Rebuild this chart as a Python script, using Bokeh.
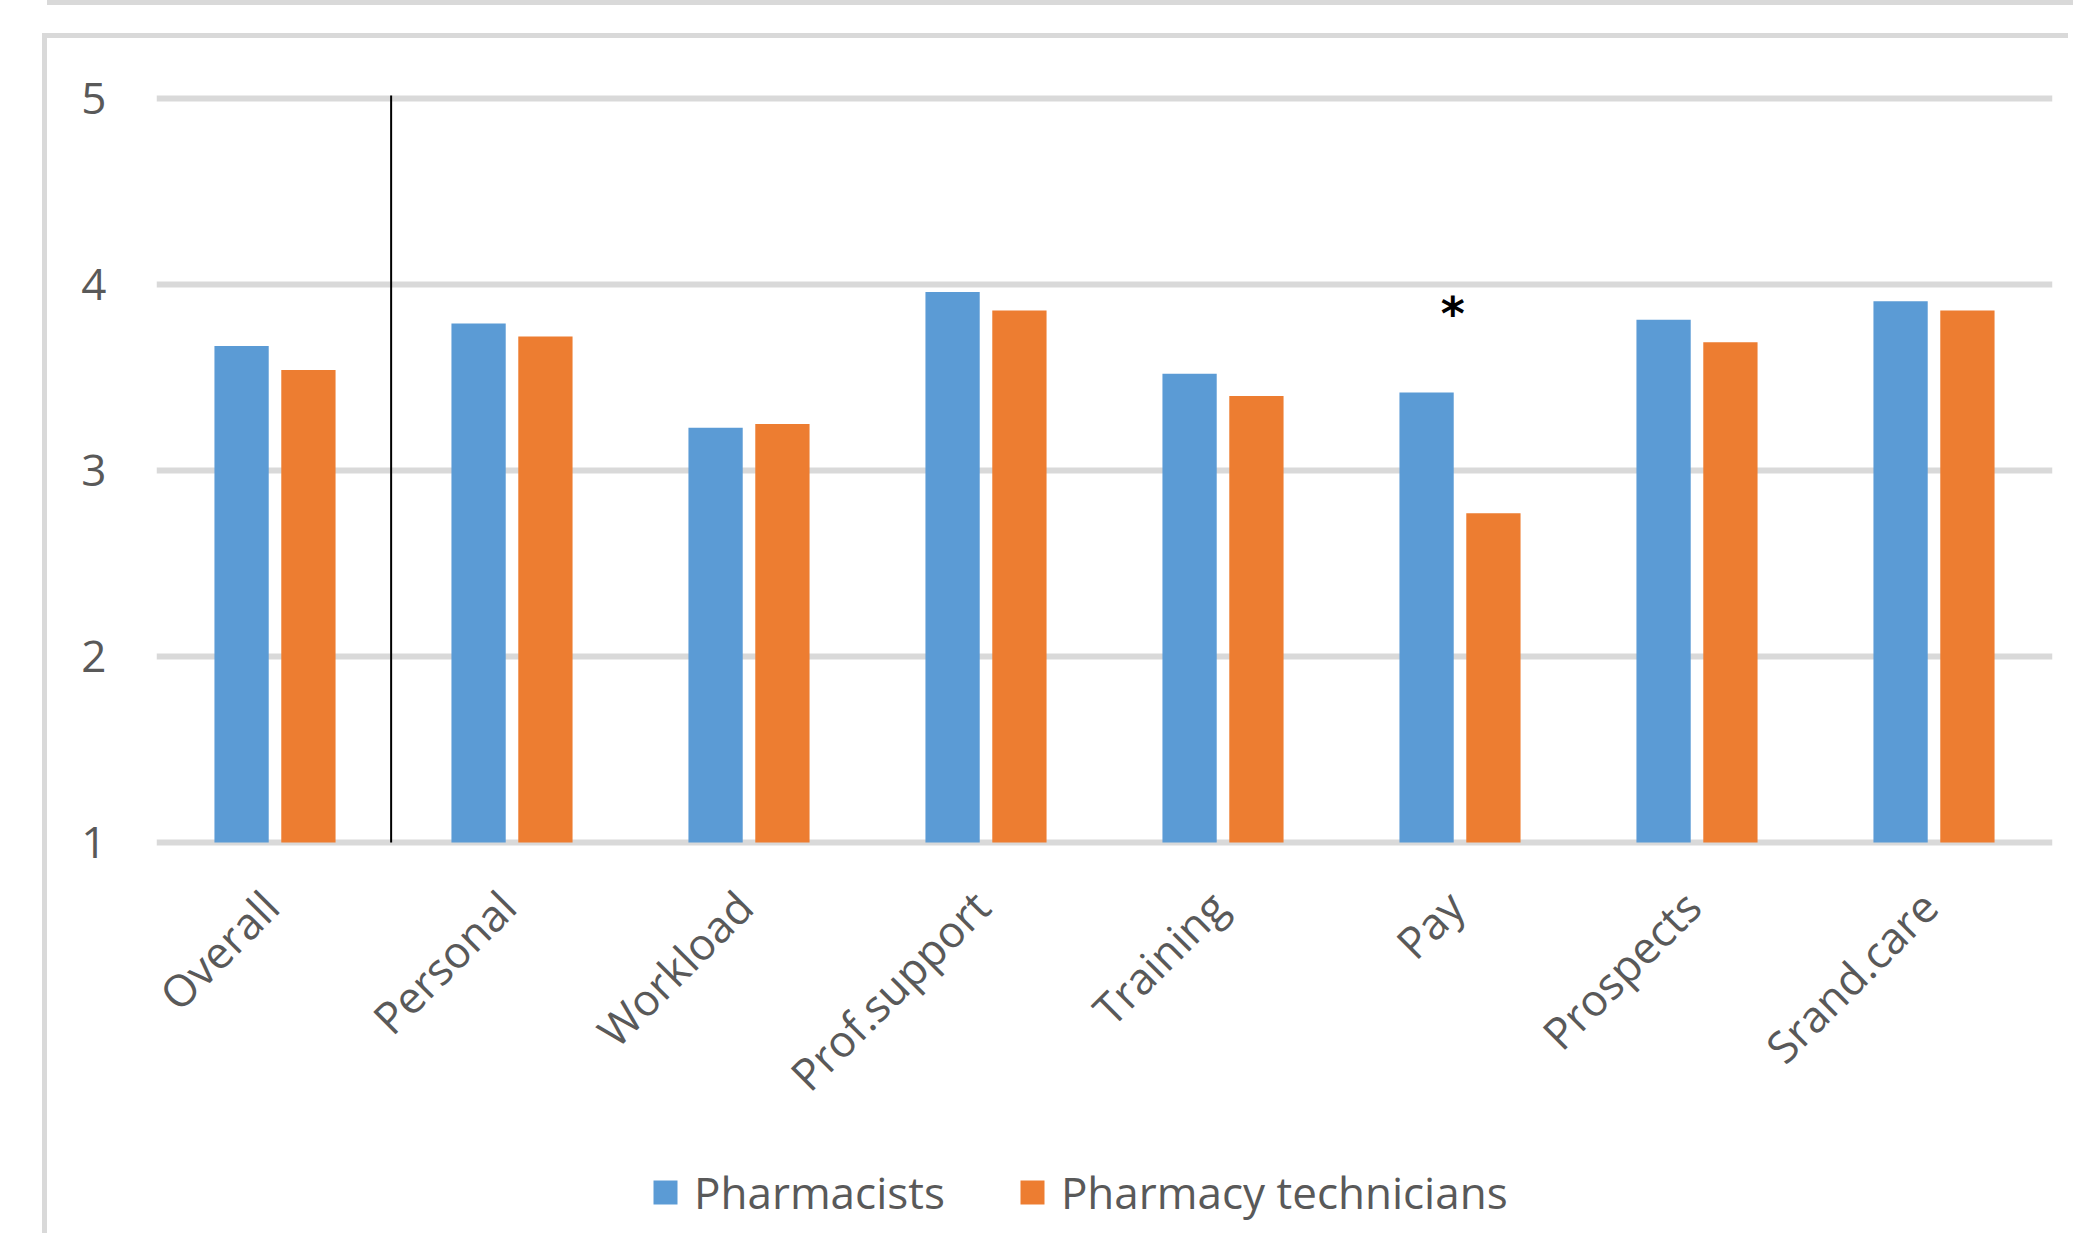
import math

from bokeh.core.properties import value
from bokeh.embed import file_html
from bokeh.layouts import column
from bokeh.models import (ColumnDataSource, Div, FactorRange, FixedTicker,
                          Legend, LegendItem, Range1d)
from bokeh.plotting import figure
from bokeh.resources import INLINE
from bokeh.transform import dodge

# ---- data -------------------------------------------------------------
categories = ["Overall", "Personal", "Workload", "Prof.support",
              "Training", "Pay", "Prospects", "Srand.care"]
pharmacists = [3.67, 3.79, 3.23, 3.96, 3.52, 3.42, 3.81, 3.91]
technicians = [3.54, 3.72, 3.25, 3.86, 3.40, 2.77, 3.69, 3.86]
series_names = ["Pharmacists", "Pharmacy technicians"]
y_ticks = [1, 2, 3, 4, 5]
marked_category = ["Pay"]
marker_level = [3.84]

# ---- styling ----------------------------------------------------------
FONT = "Open Sans"
TEXT = "#595959"
GRID = "#D9D9D9"
BLUE = "#5B9BD5"
ORANGE = "#ED7D31"
FONT_SIZE = "44px"

Y_MIN, Y_MAX = 1, 5
PX_PER_UNIT = 186.0
# the plotting area reaches down past the scale so that the rotated
# category labels and the legend sit inside it
y_low = Y_MIN - 396 / PX_PER_UNIT
y_high = Y_MAX + 4 / PX_PER_UNIT
label_y = Y_MIN - 56 / PX_PER_UNIT

src = ColumnDataSource(dict(cat=categories, ph=pharmacists, tech=technicians,
                            ly=[label_y] * len(categories)))
mark_src = ColumnDataSource(dict(cat=marked_category, y=marker_level,
                                 t=["*"] * len(marked_category)))

p = figure(
    x_range=FactorRange(*categories),
    y_range=Range1d(y_low, y_high),
    width=2026, height=1200,
    output_backend="svg", toolbar_location=None,
    min_border_left=109, min_border_right=21,
    min_border_top=56, min_border_bottom=0,
    outline_line_color=None,
    background_fill_color="white", border_fill_color="white",
)

bar_w = 0.229
r_ph = p.vbar(x=dodge("cat", -0.141, range=p.x_range), top="ph", bottom=Y_MIN,
              width=bar_w, source=src, fill_color=BLUE, line_color=None)
r_te = p.vbar(x=dodge("cat", 0.141, range=p.x_range), top="tech", bottom=Y_MIN,
              width=bar_w, source=src, fill_color=ORANGE, line_color=None)

# divider between the overall score and the individual domains
p.segment(x0=[0.99], y0=[Y_MIN], x1=[0.99], y1=[Y_MAX + 3 / PX_PER_UNIT],
          line_color="black", line_width=2)

# significance marker
p.text(x=dodge("cat", -0.03, range=p.x_range), y="y", text="t",
       source=mark_src, text_font=value("DejaVu Sans"),
       text_font_size="46px", text_font_style="bold", text_color="black",
       text_align="center", text_baseline="middle")

# category labels, rotated 45 degrees under each group
p.text(x=dodge("cat", -0.02, range=p.x_range), y="ly", text="cat", source=src,
       angle=math.pi / 4, text_font=value(FONT), text_font_size=FONT_SIZE,
       text_color=TEXT, text_align="right", text_baseline="middle")

# ---- axes & grid --------------------------------------------------------
p.xaxis.visible = False
p.xgrid.grid_line_color = None
p.ygrid.ticker = FixedTicker(ticks=y_ticks)
p.ygrid.grid_line_color = GRID
p.ygrid.grid_line_width = 6

p.yaxis.ticker = FixedTicker(ticks=y_ticks)
p.yaxis.axis_line_color = None
p.yaxis.major_tick_line_color = None
p.yaxis.minor_tick_line_color = None
p.yaxis.major_label_text_font = FONT
p.yaxis.major_label_text_font_size = FONT_SIZE
p.yaxis.major_label_text_color = TEXT
p.yaxis.major_label_standoff = 44

# ---- legend -------------------------------------------------------------
legend = Legend(
    items=[LegendItem(label=series_names[0], renderers=[r_ph]),
           LegendItem(label=series_names[1], renderers=[r_te])],
    orientation="horizontal", location=(494, 16),
    label_text_font=FONT, label_text_font_size=FONT_SIZE,
    label_text_color=TEXT, glyph_width=30, glyph_height=30,
    label_standoff=14, spacing=72, padding=0, margin=0,
    border_line_color=None, background_fill_alpha=0,
)
p.add_layout(legend, "center")

# ---- outer chart-area borders -------------------------------------------
top_bar = Div(width=2026, height=5,
              styles={"background-color": GRID})
top_bar.margin = (0, 0, 0, 47)
p.margin = (28, 0, 0, 42)
p.styles = {"border-left": f"5px solid {GRID}", "border-top": f"5px solid {GRID}"}

layout = column(top_bar, p, spacing=0)

with open("out.html", "w") as f:
    f.write(file_html(layout, INLINE))
